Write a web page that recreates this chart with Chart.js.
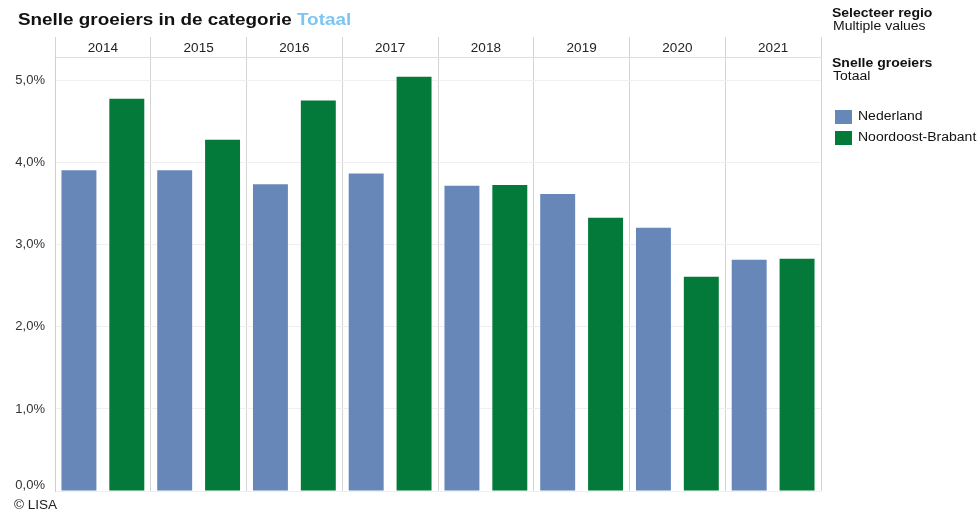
<!DOCTYPE html>
<html>
<head>
<meta charset="utf-8">
<script src="https://cdn.jsdelivr.net/npm/chart.js@4"></script>
<style>
  html, body { margin: 0; padding: 0; background: #fff; }
  body { width: 978px; height: 510px; position: relative; overflow: hidden; font-family: "Liberation Sans", Arial, sans-serif; color: #222; }
  #wrap { position: absolute; left: 0; top: 0; width: 978px; height: 510px; }
  .t { position: absolute; white-space: nowrap; transform-origin: 0 0; }
  .title { left: 18px; top: 10px; font-size: 17px; font-weight: bold; color: #111; line-height: 20px; transform: scaleX(1.11); }
  .title span { color: #7cc5f2; }
  .side { font-size: 12.5px; line-height: 14px; color: #111; transform: scaleX(1.12); }
  .b { font-weight: bold; }
  .sw { position: absolute; width: 17px; height: 14px; }
  .copy { left: 14px; top: 499px; font-size: 12px; line-height: 13px; color: #222; transform: scaleX(1.13); }
</style>
</head>
<body>
<div id="wrap"><canvas id="c" width="978" height="510"></canvas></div>
<div class="t title">Snelle groeiers in de categorie <span>Totaal</span></div>
<div class="t side b" style="left:832px; top:6px;">Selecteer regio</div>
<div class="t side" style="left:833px; top:18.5px;">Multiple values</div>
<div class="t side b" style="left:832px; top:56px;">Snelle groeiers</div>
<div class="t side" style="left:833px; top:69px;">Totaal</div>
<div id="legend"></div>
<div class="t copy">© LISA</div>
<script>
const years = ['2014','2015','2016','2017','2018','2019','2020','2021'];
const nederland = [3.91, 3.91, 3.74, 3.87, 3.72, 3.62, 3.21, 2.82];
const noordoostBrabant = [4.78, 4.28, 4.76, 5.05, 3.73, 3.33, 2.61, 2.83];
const seriesNames = ['Nederland', 'Noordoost-Brabant'];
const seriesColors = ['#6787b9', '#037a3a'];
const yTicks = [0, 1, 2, 3, 4, 5];

// HTML legend
const lg = document.getElementById('legend');
seriesNames.forEach((n, i) => {
  const top = 110 + i * 20.5;
  const sw = document.createElement('div');
  sw.className = 'sw';
  sw.style.left = '835px'; sw.style.top = top + 'px'; sw.style.background = seriesColors[i];
  lg.appendChild(sw);
  const tx = document.createElement('div');
  tx.className = 't side';
  tx.style.left = '858px'; tx.style.top = (top - 1) + 'px';
  tx.textContent = n;
  lg.appendChild(tx);
});

const fmt = v => v.toFixed(1).replace('.', ',') + '%';

// keep the bottom tick label inside the plot, like the original
const edgeLabelPlugin = {
  id: 'edgeLabel',
  beforeDraw(chart) {
    const s = chart.scales.y;
    const items = s.getLabelItems();
    items.forEach((it, i) => {
      if (s.ticks[i] && s.ticks[i].value === 0 && !it._shifted) {
        it.options.translation[1] -= 6;
        it._shifted = true;
      }
    });
  }
};

new Chart(document.getElementById('c'), {
  type: 'bar',
  data: {
    labels: years,
    datasets: [
      { label: seriesNames[0], data: nederland, backgroundColor: seriesColors[0], borderWidth: 0 },
      { label: seriesNames[1], data: noordoostBrabant, backgroundColor: seriesColors[1], borderWidth: 0 }
    ]
  },
  plugins: [edgeLabelPlugin],
  options: {
    responsive: false,
    animation: false,
    devicePixelRatio: 1,
    layout: { padding: { left: 0, right: 157, top: 37, bottom: 19 } },
    categoryPercentage: 1.0,
    barPercentage: 0.73,
    plugins: { legend: { display: false }, tooltip: { enabled: false }, title: { display: false } },
    scales: {
      x: {
        position: 'top',
        grid: { offset: true, color: '#d4d4d4', lineWidth: 1, tickLength: 20, drawTicks: true, drawOnChartArea: true },
        border: { display: true, color: '#dedede' },
        ticks: { color: '#222', font: { family: 'Liberation Sans', size: 13.5 }, padding: -19, maxRotation: 0 },
        afterFit: s => { s.height = 20; }
      },
      y: {
        min: 0,
        max: 5.29,
        afterBuildTicks: s => { s.ticks = yTicks.map(v => ({ value: v })); },
        grid: { color: '#efefef', drawTicks: false },
        border: { display: true, color: '#cfcfcf' },
        ticks: { color: '#333', font: { family: 'Liberation Sans', size: 13 }, padding: 10, callback: v => fmt(v) },
        afterFit: s => { s.width = 55; }
      }
    }
  }
});
</script>
</body>
</html>
